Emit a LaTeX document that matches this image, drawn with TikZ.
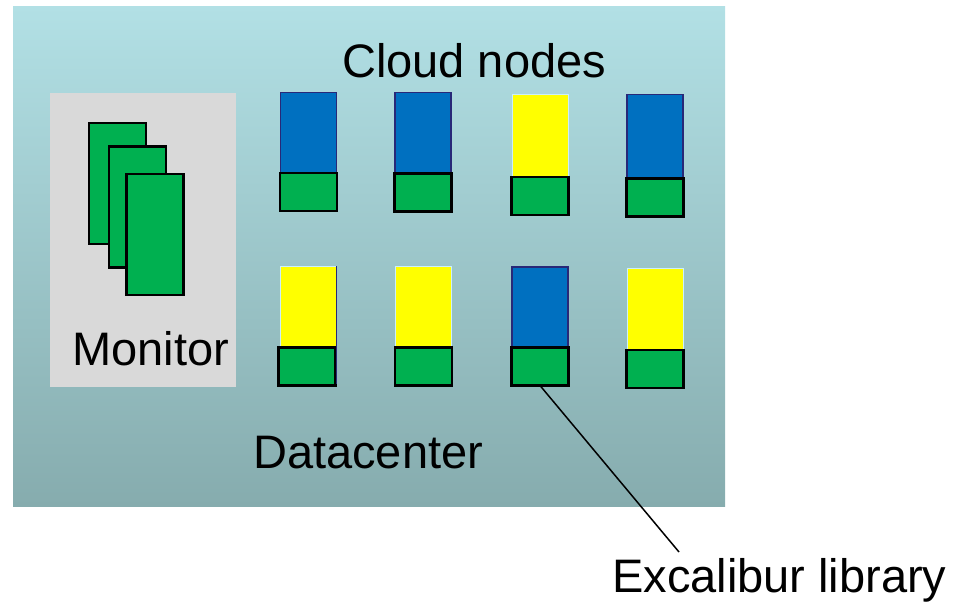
\documentclass[tikz,border=0pt]{standalone}
\usepackage{fontspec}
\setmainfont{Liberation Sans}
\usetikzlibrary{positioning}
\definecolor{dctop}{RGB}{178,224,229}
\definecolor{dcbot}{RGB}{134,172,174}
\definecolor{monbg}{RGB}{217,217,217}
\definecolor{nodeblue}{RGB}{0,112,192}
\definecolor{nodeyellow}{RGB}{255,255,0}
\definecolor{libgreen}{RGB}{0,176,80}
\definecolor{navy}{RGB}{40,40,120}

\begin{document}
\begin{tikzpicture}[x=1pt,y=-1pt,
	box/.style={rectangle,inner sep=0pt,outer sep=0pt},
	bluenode/.style={box,fill=nodeblue,draw=navy,line width=1.5pt,minimum width=56pt,minimum height=118pt},
	yellownode/.style={box,fill=nodeyellow,draw=white!80!cyan,line width=1pt,minimum width=56pt,minimum height=118pt},
	lib/.style={box,fill=libgreen,draw=black,line width=2.2pt,minimum width=57pt,minimum height=38pt},
	card/.style={box,fill=libgreen,draw=black,line width=2.2pt,minimum width=57pt,minimum height=121pt},
	big/.style={font=\fontsize{47}{56}\selectfont,inner sep=0pt}]
	\useasboundingbox (0,0) rectangle (954,603);
	\node (dc) at (369,256) [box,minimum width=712pt,minimum height=500pt,top color=dctop,bottom color=dcbot] {};
	\node (mon) at (143,240) [box,fill=monbg,minimum width=186pt,minimum height=294pt] {};
	\node (c1) at (117.5,183.5) [card] {};
	\node (c2) at (137.5,207) [card] {};
	\node (c3) at (155,234.5) [card] {};
	\node at (72,365) [big,anchor=base west] {Monitor};
	% cloud nodes, upper row
	\node (n1) at (308.5,151.5) [bluenode] {};
	\node (n1lib) at (308.5,192) [lib] {};
	\node (n2) at (423,151.5) [bluenode] {};
	\node (n2lib) at (423,192.5) [lib] {};
	\node (n3) at (540,153) [yellownode] {};
	\node (n3lib) at (540,196) [lib] {};
	\node (n4) at (655,153.5) [bluenode] {};
	\node (n4lib) at (655,197.5) [lib] {};
	% cloud nodes, lower row
	\node (n5) at (308.5,325) [yellownode] {};
	\node (n5lib) at (307,366.5) [lib] {};
	\node (n6) at (423.5,325) [yellownode] {};
	\node (n6lib) at (423.5,366.5) [lib] {};
	\node (n7) at (540,326) [bluenode] {};
	\node (n7lib) at (540,366.5) [lib] {};
	\node (n8) at (655,327) [yellownode] {};
	\node (n8lib) at (655,369) [lib] {};
	\draw[navy,line width=1.5pt] (n5.north east) -- (n5.south east);
	\node at (342,77) [big,anchor=base west] {Cloud nodes};
	\node at (253,468) [big,anchor=base west] {Datacenter};
	\node (exc) at (612,592) [big,anchor=base west] {Excalibur library};
	\coordinate (tip) at (679,552);
	\draw[line width=1.5pt] (n7lib.south) -- (tip);
\end{tikzpicture}
\end{document}
